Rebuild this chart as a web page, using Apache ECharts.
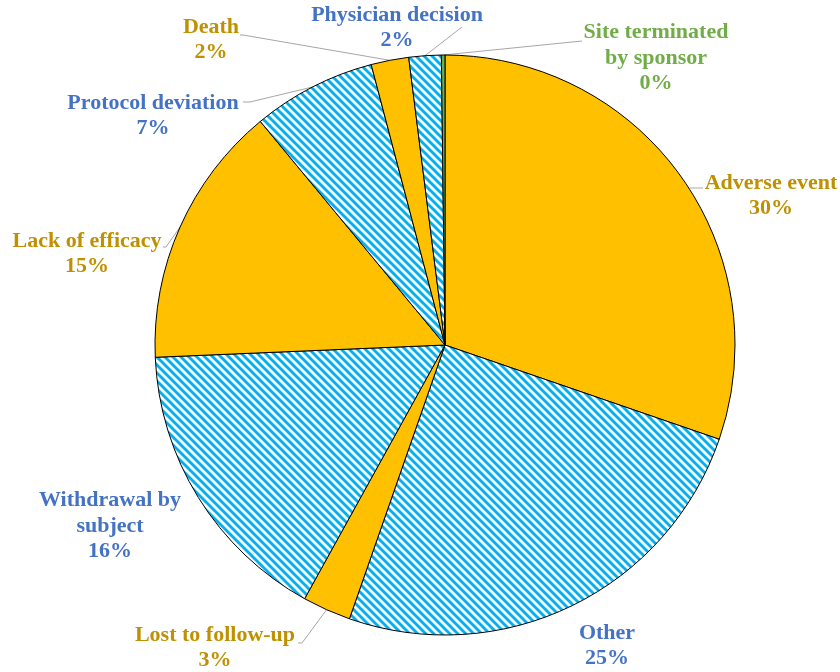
<!DOCTYPE html>
<html><head><meta charset="utf-8">
<script src="https://cdn.jsdelivr.net/npm/echarts@6/dist/echarts.min.js"></script>
<style>html,body{margin:0;padding:0;background:#fff}#c{width:840px;height:672px}</style>
</head><body><div id="c"></div>
<script>
const categories = ["Adverse event","Other","Lost to follow-up","Withdrawal by\nsubject","Lack of efficacy","Protocol deviation","Death","Physician decision","Site terminated\nby sponsor"];
const values = [30.3, 25.1, 2.7, 16.3, 14.7, 6.9, 2.1, 1.8, 0.2];
const fillKinds = ["orange","stripe","orange","stripe","orange","stripe","orange","stripe","green"];

// label placement (style, not data)
const labelPos = [
  {x:771,y:196,line:[[703,188]], start:[690,188]},
  {x:607,y:646,line:null},
  {x:215,y:648,line:[[302,643],[298,643]]},
  {x:110,y:526,line:null},
  {x:87,y:254,line:[[166,247],[163,247]]},
  {x:153,y:116,line:[[250,102],[243,102]]},
  {x:211,y:40,line:[[243,35],[240,35]]},
  {x:397,y:28,line:[[462,27]]},
  {x:656,y:58,line:[[582,41]]}
];

const T = 8;
const tile = document.createElement('canvas');
tile.width = T; tile.height = T;
const tc = tile.getContext('2d');
tc.fillStyle = '#ffffff'; tc.fillRect(0,0,T,T);
tc.strokeStyle = '#00B0F0'; tc.lineWidth = 2.9;
for (const k of [-T,0,T]) { tc.beginPath(); tc.moveTo(k-1,-1); tc.lineTo(k+T+1,T+1); tc.stroke(); }

const fills = {orange:'#FFC000', stripe:{image:tile, repeat:'repeat'}, green:'#70AD47'};
const labelColors = {orange:'#BF9000', stripe:'#4472C4', green:'#70AD47'};

const data = categories.map((n,i)=>({
  name:n, value:values[i],
  itemStyle:{color:fills[fillKinds[i]]},
  label:{color:labelColors[fillKinds[i]]},
  labelLine:{show: !!labelPos[i].line}
}));

const chart = echarts.init(document.getElementById('c'), null, {renderer:'canvas'});
chart.setOption({
  animation:false,
  series:[{
    type:'pie',
    center:[445,345], radius:290,
    startAngle:90, clockwise:true,
    avoidLabelOverlap:false,
    itemStyle:{borderColor:'#000', borderWidth:1},
    label:{show:true, position:'outside', fontFamily:'Liberation Serif', fontWeight:'bold', fontSize:22, lineHeight:25.5, align:'center',
      formatter:p=>p.name+'\n'+Math.round(p.percent)+'%'},
    labelLine:{lineStyle:{color:'#A6A6A6', width:1}},
    labelLayout:function(p){
      const lp = labelPos[p.dataIndex];
      const r = {x:lp.x, y:lp.y, align:'center', verticalAlign:'middle'};
      if (lp.line && p.labelLinePoints) {
        r.labelLinePoints = [lp.start || p.labelLinePoints[0]].concat(lp.line);
      }
      return r;
    },
    data:data
  }]
});
</script></body></html>
